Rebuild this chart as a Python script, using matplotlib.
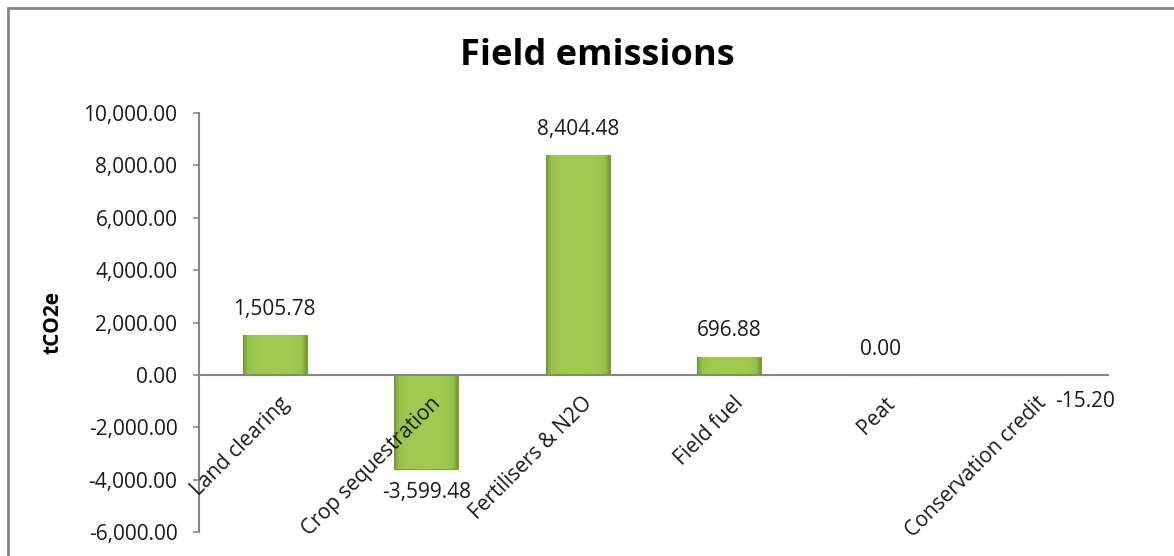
import matplotlib
matplotlib.use("Agg")
import matplotlib.pyplot as plt
import numpy as np
from matplotlib.patches import Rectangle
from matplotlib.ticker import FuncFormatter, MultipleLocator
from matplotlib.colors import LinearSegmentedColormap
from matplotlib.transforms import ScaledTranslation

categories = ["Land clearing", "Crop sequestration", "Fertilisers & N2O",
              "Field fuel", "Peat", "Conservation credit"]
values = [1505.78, -3599.48, 8404.48, 696.88, 0.00, -15.20]
title = "Field emissions"
ylabel = "tCO2e"

plt.rcParams['font.family'] = ['Open Sans', 'DejaVu Sans']

W, H = 1174, 556
fig = plt.figure(figsize=(W / 100, H / 100), dpi=100)
ax = fig.add_axes([199 / W, 1 - 532 / H, (1108 - 199) / W, (532 - 113) / H])

# outer chart border
fig.patches.append(Rectangle((8 / W, -0.2), 1.2, 1.2 - 8 / H, transform=fig.transFigure,
                             fill=False, edgecolor='#868686', linewidth=2))

x = np.arange(len(categories))
bars = ax.bar(x, values, width=0.42, color='#93BF45', edgecolor='#7EA236',
              linewidth=0.8, zorder=3)

# bevel-like horizontal gradient
grad = np.linspace(0, 1, 256)
prof = 1 - (np.abs(grad - 0.5) * 2) ** 4
cmap = LinearSegmentedColormap.from_list('g', ['#6E9530', '#97C24A', '#9FCB50'])
for b in bars:
    x0, y0 = b.get_x(), b.get_y()
    w, h = b.get_width(), b.get_height()
    if h == 0:
        continue
    im = ax.imshow(prof[np.newaxis, :], cmap=cmap, aspect='auto',
                   extent=[x0, x0 + w, y0, y0 + h], zorder=4, vmin=0, vmax=1)
    im.set_clip_path(b)

ax.set_xlim(-0.5, len(categories) - 0.5)
ax.set_ylim(-6000, 10000)
ax.yaxis.set_major_locator(MultipleLocator(2000))
ax.yaxis.set_major_formatter(FuncFormatter(lambda v, p: f"{v:,.2f}"))

for s in ['top', 'right']:
    ax.spines[s].set_visible(False)
ax.spines['bottom'].set_position(('data', 0))
ax.spines['bottom'].set_color('#868686')
ax.spines['left'].set_color('#868686')
ax.spines['bottom'].set_linewidth(1.5)
ax.spines['left'].set_linewidth(1.5)
ax.spines['bottom'].set_zorder(5)
ax.xaxis.set_zorder(10)

FS = 15
ax.tick_params(axis='y', direction='out', length=4.5, width=1.2, color='#868686',
               labelsize=FS, pad=11, labelcolor='#1a1a1a')
ax.tick_params(axis='x', length=0, labelsize=FS, pad=13, labelcolor='#1a1a1a')
ax.set_xticks(x)
ax.set_xticklabels(categories, rotation=45, ha='right', rotation_mode='anchor')
off = ScaledTranslation(4 / 100, 0, fig.dpi_scale_trans)
for lbl in ax.get_xticklabels():
    lbl.set_transform(lbl.get_transform() + off)

# data labels
for i, v in enumerate(values):
    if i == len(values) - 1:
        xt, yt = 38, -19
    elif v < 0:
        xt, yt = 0, -16.5
    else:
        xt, yt = 0, 18.5
    ax.annotate(f"{v:,.2f}", (x[i], v), xytext=(xt, yt), textcoords='offset points',
                ha='center', va='center', fontsize=FS, color='#1a1a1a', zorder=11)

fig.text(53 / W, 1 - 323 / H, ylabel, rotation=90, ha='center', va='center',
         fontsize=15, fontweight='bold', color='black')

fig.text(597 / W, 1 - 56 / H, title, ha='center', va='center', fontsize=26,
         fontweight='bold', color='black')

fig.savefig("out.png", dpi=100)
